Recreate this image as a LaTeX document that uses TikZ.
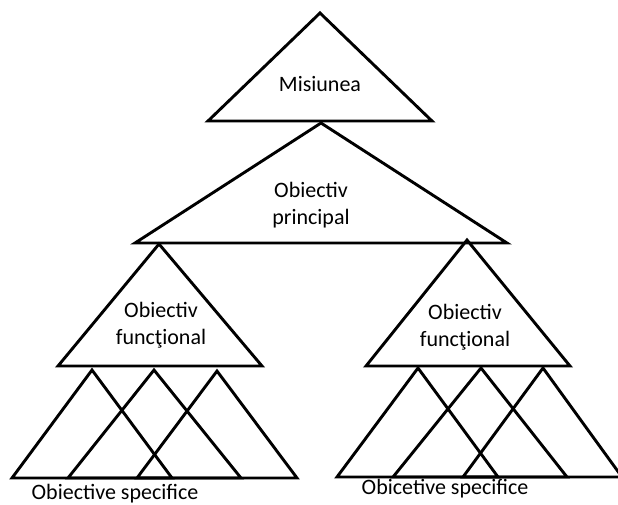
\documentclass[tikz,border=0pt]{standalone}
\usepackage{fontspec}
\setmainfont{Carlito}
\begin{document}
\begin{tikzpicture}[x=1pt,y=-1pt,
  tri/.style={draw=black,line width=2.9pt,line join=miter,fill=none},
  lbl/.style={font=\fontsize{22}{27}\selectfont,text=black,align=center,inner sep=0pt}]
\useasboundingbox (0,0) rectangle (618,504);
% mission and main objective
\draw[tri] (320,13) -- (432,121) -- (208,121) -- cycle;
\draw[tri] (321,123) -- (507,243) -- (135,243) -- cycle;
% functional objectives
\draw[tri] (159,244) -- (262,366) -- (58,366) -- cycle;
\draw[tri] (467,240) -- (570,366) -- (366,366) -- cycle;
% specific objectives, left group
\draw[tri] (92,370) -- (172,478) -- (12,478) -- cycle;
\draw[tri] (154,370) -- (241,478) -- (68,478) -- cycle;
\draw[tri] (217,371) -- (297,478) -- (137,478) -- cycle;
% specific objectives, right group
\draw[tri] (418,368) -- (498,477) -- (337,477) -- cycle;
\draw[tri] (481,368) -- (567,477) -- (393,477) -- cycle;
\draw[tri] (543,368) -- (622,477) -- (463,477) -- cycle;
% labels
\node[lbl] (mis) at (320,84) {Misiunea};
\node[lbl] (princ) at (311,205) {Obiectiv\\principal};
\node[lbl] (funcL) at (161,325) {Obiectiv\\funcţional};
\node[lbl] (funcR) at (465,327) {Obiectiv\\funcţional};
\node[lbl,anchor=base] (specL) at (115,499) {Obiective specifice};
\node[lbl,anchor=base] (specR) at (445,494) {Obicetive specifice};
\end{tikzpicture}
\end{document}
